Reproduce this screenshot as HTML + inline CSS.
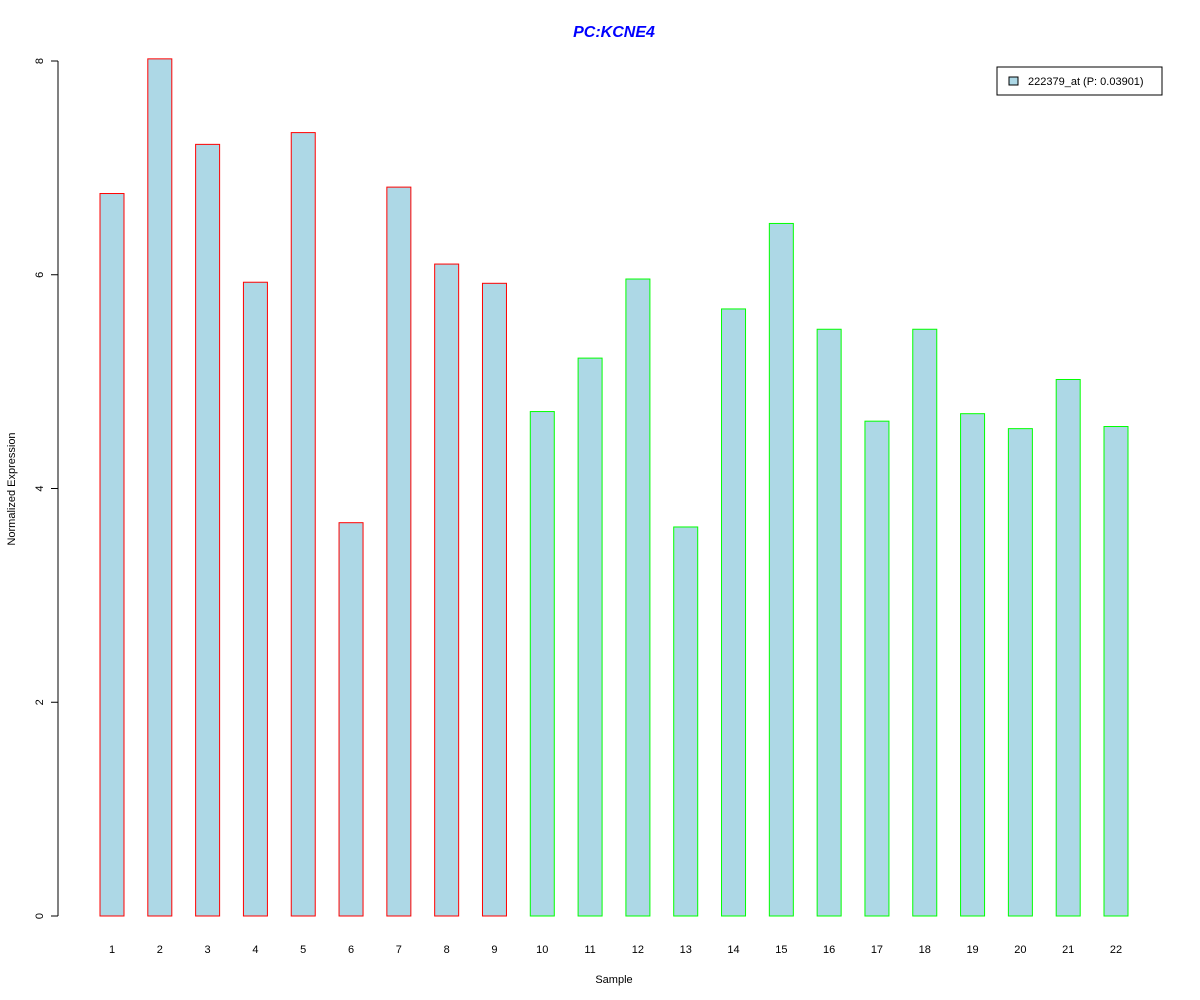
<!DOCTYPE html>
<html><head><meta charset="utf-8"><style>
body{margin:0;background:#fff;}
svg{display:block;font-family:"Liberation Sans",Arial,sans-serif;}
</style></head><body>
<svg id="chart" width="1200" height="1000">
<text x="614" y="37" text-anchor="middle" font-size="16" font-weight="bold" font-style="italic" fill="#0000ff">PC:KCNE4</text>
<text x="614" y="983" text-anchor="middle" font-size="11">Sample</text>
<text transform="translate(15,489) rotate(-90)" text-anchor="middle" font-size="11">Normalized Expression</text>
<g id="yaxis"></g>
<g id="bars"></g>
<g id="xlabels"></g>
<g>
<rect x="997" y="67" width="165" height="28" fill="#fff" stroke="#000"/>
<rect x="1009" y="77" width="9" height="8" fill="#add8e6" stroke="#000"/>
<text x="1028" y="85" font-size="11">222379_at (P: 0.03901)</text>
</g>
</svg>
<script>
const categories=["1","2","3","4","5","6","7","8","9","10","11","12","13","14","15","16","17","18","19","20","21","22"];
const values=[6.76,8.02,7.22,5.93,7.33,3.68,6.82,6.10,5.92,4.72,5.22,5.96,3.64,5.68,6.48,5.49,4.63,5.49,4.70,4.56,5.02,4.58];
const groups=["red","red","red","red","red","red","red","red","red","green","green","green","green","green","green","green","green","green","green","green","green","green"];
const yTicks=[0,2,4,6,8];
const NS="http://www.w3.org/2000/svg";
const y0=916,yTop=61,yMax=8;
function yScale(v){return y0-(v/yMax)*(y0-yTop);}
function xScale(i){return 112+i*(1116-112)/21;}
const colorMap={red:"#ff0000",green:"#00ff00"};
const ya=document.getElementById("yaxis");
let ax=document.createElementNS(NS,"line");
ax.setAttribute("x1",58);ax.setAttribute("x2",58);ax.setAttribute("y1",yScale(0));ax.setAttribute("y2",yScale(8));ax.setAttribute("stroke","#000");


ya.appendChild(ax);
yTicks.forEach(t=>{
 const l=document.createElementNS(NS,"line");
 l.setAttribute("x1",51);l.setAttribute("x2",58);l.setAttribute("y1",yScale(t));l.setAttribute("y2",yScale(t));l.setAttribute("stroke","#000");
 
 
 ya.appendChild(l);
 const tx=document.createElementNS(NS,"text");
 tx.setAttribute("transform",`translate(43,${yScale(t)}) rotate(-90)`);tx.setAttribute("text-anchor","middle");tx.setAttribute("font-size","11");
 tx.textContent=t;
 
 
 ya.appendChild(tx);
});
const bg=document.getElementById("bars"),xl=document.getElementById("xlabels");
values.forEach((v,i)=>{
 const r=document.createElementNS(NS,"rect");
 const cx=xScale(i);
 r.setAttribute("x",cx-12);r.setAttribute("width",24);
 r.setAttribute("y",yScale(v));r.setAttribute("height",yScale(0)-yScale(v));
 r.setAttribute("fill","#add8e6");r.setAttribute("stroke",colorMap[groups[i]]);
 
 
 bg.appendChild(r);
 const t=document.createElementNS(NS,"text");
 t.setAttribute("x",cx);t.setAttribute("y",953);t.setAttribute("text-anchor","middle");t.setAttribute("font-size","11");
 t.textContent=categories[i];
 
 
 xl.appendChild(t);
});
</script>
</body></html>
